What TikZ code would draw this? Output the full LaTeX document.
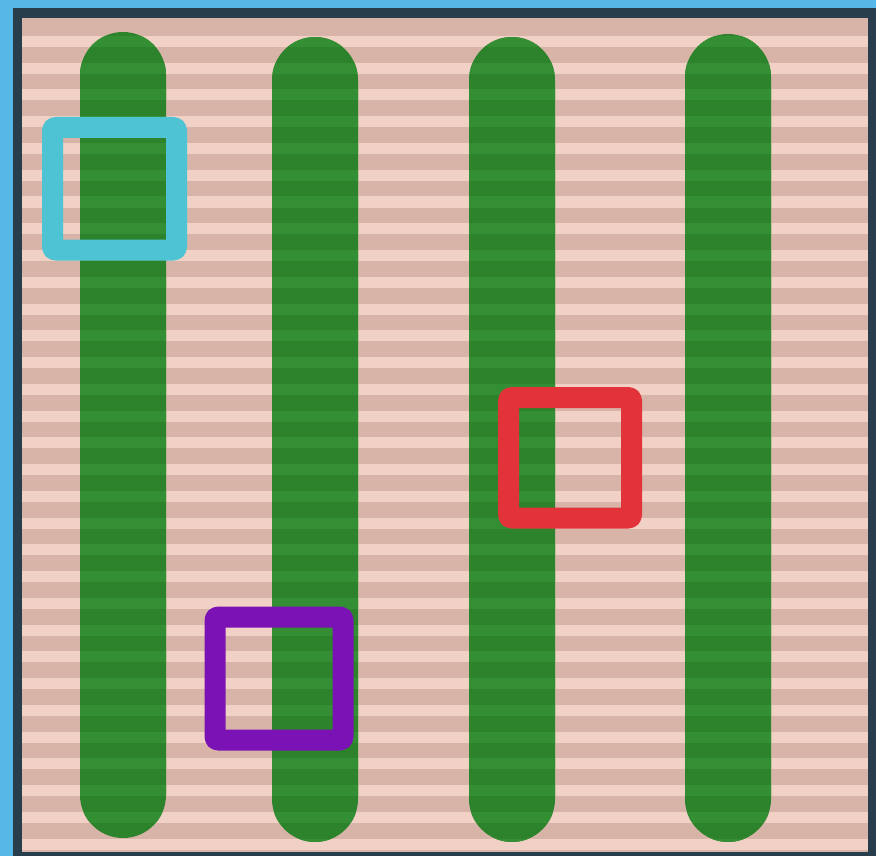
\documentclass[tikz,border=0pt]{standalone}
\begin{document}
\begin{tikzpicture}[x=1pt,y=-1pt]
\definecolor{frameblue}{HTML}{55B8E6}
\definecolor{framedark}{HTML}{283E4C}
\definecolor{pinkdark}{HTML}{D8B4A8}
\definecolor{pinklight}{HTML}{F1D1C5}
\definecolor{greendark}{HTML}{2C832C}
\definecolor{greenlight}{HTML}{348F34}
\definecolor{cyanbox}{HTML}{4EC3D3}
\definecolor{redbox}{HTML}{E2323A}
\definecolor{purplebox}{HTML}{7B12B5}
\tikzset{
  greenbar/.style={fill=greendark, rounded corners=43pt},
  markbox/.style={line width=21pt, rounded corners=3pt, line join=round}
}
\useasboundingbox (0,0) rectangle (876,856);
% frame
\fill[frameblue] (0,0) rectangle (876,856);
\fill[framedark] (13,8) rectangle (876,856);
\fill[pinkdark] (22,18) rectangle (868,852);
% pink stripes
\foreach \k in {0,...,30}{
  \fill[pinklight] (22,{36+\k*26.75}) rectangle (868,{47+\k*26.75});
}
% green bars
\fill[greenbar] (80,32) rectangle (166,838);
\fill[greenbar] (272,37) rectangle (358,842);
\fill[greenbar] (469,37) rectangle (555,842);
\fill[greenbar] (685,34) rectangle (771,842);
\begin{scope}
  \clip[rounded corners=43pt] (80,32) rectangle (166,838)
    (272,37) rectangle (358,842)
    (469,37) rectangle (555,842)
    (685,34) rectangle (771,842);
  \foreach \k in {-1,...,30}{
    \fill[greenlight] (22,{36+\k*26.75}) rectangle (868,{47+\k*26.75});
  }
\end{scope}
% marker squares
\draw[markbox, cyanbox] (52.5,127.5) rectangle (176.5,250);
\draw[markbox, redbox] (508.5,397.5) rectangle (631.5,518);
\draw[markbox, purplebox] (215,617) rectangle (343,740);
\end{tikzpicture}
\end{document}
